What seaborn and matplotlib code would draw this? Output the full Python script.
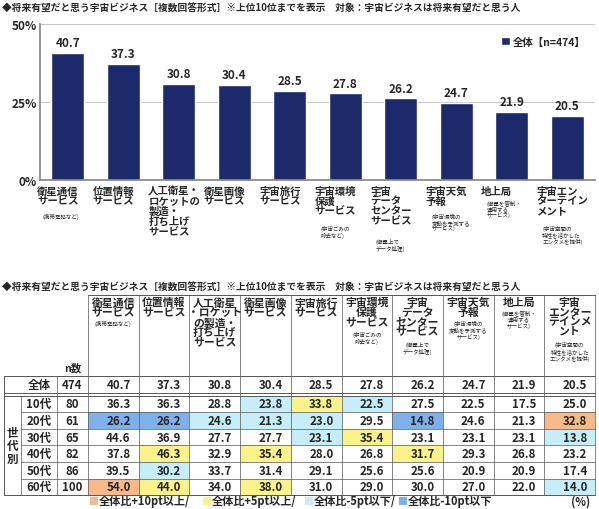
import matplotlib
matplotlib.use("Agg")
import matplotlib.pyplot as plt
import seaborn as sns
import pandas as pd
from matplotlib.patches import Rectangle

sns.set_theme(style="white")
plt.rcParams['font.family'] = ['Noto Sans CJK JP', 'DejaVu Sans']

categories = ["衛星通信\nサービス", "位置情報\nサービス", "人工衛星・\nロケットの\n製造・\n打ち上げ\nサービス",
              "衛星画像\nサービス", "宇宙旅行\nサービス", "宇宙環境\n保護\nサービス", "宇宙\nデータ\nセンター\nサービス",
              "宇宙天気\n予報", "地上局", "宇宙エン\nターテイン\nメント"]
notes = ["(携帯電話など)", "", "", "", "", "(宇宙ごみの\n除去など)", "(衛星上で\nデータ処理)",
         "(宇宙環境の\n変動を予測する\nサービス)", "(衛星を管制・\n運用する\nサービス)", "(宇宙空間の\n特性を活かした\nエンタメを提供)"]
overall = [40.7, 37.3, 30.8, 30.4, 28.5, 27.8, 26.2, 24.7, 21.9, 20.5]
ages = ["10代", "20代", "30代", "40代", "50代", "60代"]
age_n = [80, 61, 65, 82, 86, 100]
age_vals = [
    [36.3, 36.3, 28.8, 23.8, 33.8, 22.5, 27.5, 22.5, 17.5, 25.0],
    [26.2, 26.2, 24.6, 21.3, 23.0, 29.5, 14.8, 24.6, 21.3, 32.8],
    [44.6, 36.9, 27.7, 27.7, 23.1, 35.4, 23.1, 23.1, 23.1, 13.8],
    [37.8, 46.3, 32.9, 35.4, 28.0, 26.8, 31.7, 29.3, 26.8, 23.2],
    [39.5, 30.2, 33.7, 31.4, 29.1, 25.6, 25.6, 20.9, 20.9, 17.4],
    [54.0, 44.0, 34.0, 38.0, 31.0, 29.0, 30.0, 27.0, 22.0, 14.0],
]
tbl_heads = ["衛星通信\nサービス", "位置情報\nサービス", "人工衛星\n・ロケット\nの製造・\n打ち上げ\nサービス",
             "衛星画像\nサービス", "宇宙旅行\nサービス", "宇宙環境\n保護\nサービス", "宇宙\nデータ\nセンター\nサービス",
             "宇宙天気\n予報", "地上局", "宇宙\nエンター\nテインメ\nント"]

NAVY = "#1c2a6b"
fig = plt.figure(figsize=(5.99, 5.10), dpi=100)
W, H = 599, 510

# ---- top bar chart ----
ax = fig.add_axes([40/W, (H-181)/H, 555/W, 156/H])
df = pd.DataFrame({"cat": [str(i) for i in range(10)], "v": overall})
sns.barplot(data=df, x="cat", y="v", color=NAVY, width=0.6, ax=ax, label="全体【n=474】", saturation=1)
ax.set_ylim(0, 50)
ax.set_yticks([0, 25, 50])
ax.set_yticklabels(["0%", "25%", "50%"], fontsize=8.5, fontweight="bold")
ax.set_xticks([])
ax.set_xlabel(""); ax.set_ylabel("")
ax.tick_params(axis="y", length=0, pad=2)
for s in ["top", "right"]:
    ax.spines[s].set_visible(False)
ax.spines["left"].set_color("#888"); ax.spines["bottom"].set_color("#888")
ax.grid(axis="y", color="#bbb", lw=0.6)
ax.set_axisbelow(True)
for i, v in enumerate(overall):
    ax.text(i, v + 1.2, f"{v:.1f}", ha="center", va="bottom", fontsize=8.5, fontweight="bold")
ax.legend(loc="upper right", bbox_to_anchor=(1.0, 0.98), frameon=False,
          handlelength=0.8, handleheight=0.8, handletextpad=0.3, prop={"weight": "bold", "size": 7.5})
for i, (c, n) in enumerate(zip(categories, notes)):
    ax.annotate(c, xy=(i, 0), xytext=(-22, -4), textcoords="offset points", xycoords="data",
                ha="left", va="top", fontsize=7.5, fontweight="bold", linespacing=1.0)
    if n:
        nl = c.count("\n") + 1
        ax.annotate(n, xy=(i, 0), xytext=(-18, -5 - nl * 9.2), textcoords="offset points",
                    ha="left", va="top", fontsize=4, linespacing=1.1)

# ---- overlay axes in pixel coords ----
ox = fig.add_axes([0, 0, 1, 1])
ox.set_xlim(0, W); ox.set_ylim(H, 0); ox.axis("off")
ox.text(2, 8, "◆将来有望だと思う宇宙ビジネス［複数回答形式］※上位10位までを表示　対象：宇宙ビジネスは将来有望だと思う人",
        fontsize=7, fontweight="bold", va="center", ha="left")
ox.text(2, 287, "◆将来有望だと思う宇宙ビジネス［複数回答形式］※上位10位までを表示　対象：宇宙ビジネスは将来有望だと思う人",
        fontsize=7, fontweight="bold", va="center", ha="left")

x0, xa, xn, xd = 4, 21, 57, 88
cw = (595 - xd) / 10
yh0, yh1 = 296, 377
rh = 16.6
ya0 = yh1
yg0 = ya0 + rh + 3
ORANGE, YELLOW, LBLUE, DBLUE = "#f8b98a", "#fbf28a", "#c5eef8", "#7fb0ea"

def cell_color(v, base):
    d = v - base
    if d >= 10: return ORANGE
    if d >= 5: return YELLOW
    if d <= -10: return DBLUE
    if d <= -5: return LBLUE
    return None

for r, vals in enumerate(age_vals):
    yt = yg0 + r * rh
    for j, v in enumerate(vals):
        c = cell_color(v, overall[j])
        if c:
            ox.add_patch(Rectangle((xd + j * cw, yt), cw, rh, color=c, lw=0))
for j, h in enumerate(tbl_heads):
    cx = xd + j * cw + cw / 2
    ox.text(cx, yh0 + 2, h, ha="center", va="top", fontsize=7.8, fontweight="bold", linespacing=0.95)
    n = notes[j]
    if n:
        nl = h.count("\n") + 1
        ox.text(cx, yh0 + 4 + nl * 10.6, n, ha="center", va="top", fontsize=4, linespacing=1.15)
ox.text((xn + xd) / 2, yh1 - 3, "n数", ha="center", va="bottom", fontsize=7.5, fontweight="bold")
FS = 8.3
ym = ya0 + rh / 2
ox.text((xa + xn) / 2, ym, "全体", ha="center", va="center", fontsize=FS, fontweight="bold")
ox.text((xn + xd) / 2, ym, "474", ha="center", va="center", fontsize=FS, fontweight="bold")
for j, v in enumerate(overall):
    ox.text(xd + j * cw + cw * 0.6, ym, f"{v:.1f}", ha="center", va="center", fontsize=FS, fontweight="bold")
for r, (a, n, vals) in enumerate(zip(ages, age_n, age_vals)):
    ym = yg0 + r * rh + rh / 2
    ox.text((xa + xn) / 2, ym, a, ha="center", va="center", fontsize=FS, fontweight="bold")
    ox.text((xn + xd) / 2, ym, str(n), ha="center", va="center", fontsize=FS, fontweight="bold")
    for j, v in enumerate(vals):
        ox.text(xd + j * cw + cw * 0.6, ym, f"{v:.1f}", ha="center", va="center", fontsize=FS, fontweight="bold")
yend = yg0 + 6 * rh
ox.text((x0 + xa) / 2, (yg0 + yend) / 2, "世\n代\n別", ha="center", va="center", fontsize=FS,
        fontweight="bold", linespacing=1.0)
lc = "#555"
ox.plot([x0, 595], [ya0, ya0], color=lc, lw=0.7)
ox.plot([x0, 595], [ya0 + rh, ya0 + rh], color=lc, lw=0.7)
ox.plot([x0, 595], [yg0, yg0], color=lc, lw=0.7)
ox.plot([x0, 595], [yend, yend], color=lc, lw=0.7)
for r in range(1, 6):
    ox.plot([xa, 595], [yg0 + r * rh] * 2, color=lc, lw=0.5)
ox.plot([xd, 595], [yh0, yh0], color=lc, lw=0.7)
for j in range(11):
    ox.plot([xd + j * cw] * 2, [yh0, yend], color=lc, lw=0.5)
ox.plot([x0, x0], [ya0, yend], color=lc, lw=0.7)
ox.plot([xa, xa], [yg0, yend], color=lc, lw=0.5)
ox.plot([xn, xn], [ya0, yend], color=lc, lw=0.5)
ly = 502
items = [(ORANGE, "全体比+10pt以上/", 90), (YELLOW, "全体比+5pt以上/", 203), (LBLUE, "全体比-5pt以下/", 305), (DBLUE, "全体比-10pt以下", 399)]
for c, t, x in items:
    ox.add_patch(Rectangle((x, ly - 4), 8, 8, color=c, lw=0))
    ox.text(x + 9, ly, t, ha="left", va="center", fontsize=8, fontweight="bold")
ox.text(590, ly, "(%)", ha="right", va="center", fontsize=8, fontweight="bold")

fig.savefig("out.png", dpi=100)
